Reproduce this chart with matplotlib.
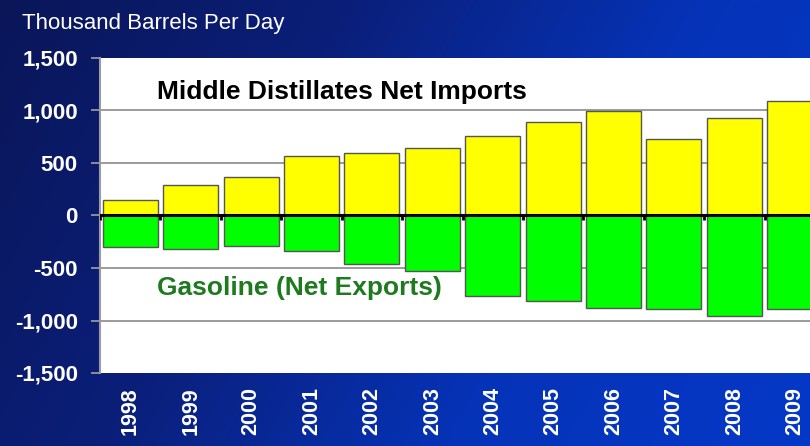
import numpy as np
import matplotlib
matplotlib.use("Agg")
import matplotlib.pyplot as plt
from matplotlib.colors import LinearSegmentedColormap

years = ["1998", "1999", "2000", "2001", "2002", "2003",
         "2004", "2005", "2006", "2007", "2008", "2009"]
distillates_net_imports = [150, 290, 370, 570, 595, 645,
                           755, 895, 995, 725, 925, 1095]
gasoline_net_exports = [-300, -320, -290, -340, -465, -525,
                        -770, -815, -880, -890, -955, -895]
y_ticks = [-1500, -1000, -500, 0, 500, 1000, 1500]

plt.rcParams["font.family"] = ["Liberation Sans", "DejaVu Sans"]

W, H = 810, 446
fig = plt.figure(figsize=(W / 100, H / 100), dpi=100)

# Navy-to-royal-blue slide background
bg = fig.add_axes([0, 0, 1, 1], zorder=0)
bg.set_axis_off()
gx = np.linspace(0, 1, 400)[None, :]
gy = np.linspace(0, 1, 220)[:, None]
grad = 0.8 * gx + 0.25 * gy
cmap = LinearSegmentedColormap.from_list(
    "slide", ["#0a1658", "#0b1f7a", "#0533b8", "#0538c8"])
bg.imshow(grad, cmap=cmap, aspect="auto", extent=[0, 1, 0, 1],
          origin="upper", vmin=0, vmax=1.05)
bg.set_xlim(0, 1)
bg.set_ylim(0, 1)

ax = fig.add_axes([100 / W, (H - 373) / H, 725 / W, 315 / H], zorder=1)
ax.set_facecolor("white")
x = np.arange(len(years))

ax.bar(x, distillates_net_imports, width=0.91, color="#ffff00",
       edgecolor="#555555", linewidth=1.0, zorder=3)
ax.bar(x, gasoline_net_exports, width=0.91, color="#00ff00",
       edgecolor="#555555", linewidth=1.0, zorder=3)

ax.set_xlim(-0.5, len(years) - 0.5)
ax.set_ylim(-1500, 1500)
ax.set_yticks(y_ticks)
ax.set_yticklabels([f"{v:,}" for v in y_ticks])
for v in y_ticks[1:-1]:
    if v != 0:
        ax.axhline(v, color="#8a8a8a", linewidth=1.2, zorder=1)

# zero line with short category divider ticks
ax.axhline(0, color="black", linewidth=2.2, zorder=4)
ax.vlines(np.arange(len(years) + 1) - 0.5, -45, 0, color="black",
          linewidth=2.0, zorder=4)

ax.set_xticks(x)
ax.set_xticklabels(years, rotation=90, fontsize=15.5, fontweight="bold",
                   color="white")
ax.tick_params(axis="x", length=0, pad=10)
ax.tick_params(axis="y", length=6.5, width=1.2, color="#a0a0a0",
               labelsize=16, labelcolor="white", pad=9.4)
for lbl in ax.get_yticklabels():
    lbl.set_fontweight("bold")
for s in ["top", "right", "bottom"]:
    ax.spines[s].set_visible(False)
ax.spines["left"].set_color("#9a9aa8")
ax.spines["left"].set_linewidth(1.5)

ax.text(0.45, 1180, "Middle Distillates Net Imports", fontsize=19,
        fontweight="bold", color="black", va="center", ha="left", zorder=5)
ax.text(0.45, -690, "Gasoline (Net Exports)", fontsize=19,
        fontweight="bold", color="#1f7a1f", va="center", ha="left", zorder=5)

fig.text(22 / W, 1 - 24 / H, "Thousand Barrels Per Day", fontsize=16,
         color="white", va="center", ha="left")

fig.savefig("out.png", dpi=100)
